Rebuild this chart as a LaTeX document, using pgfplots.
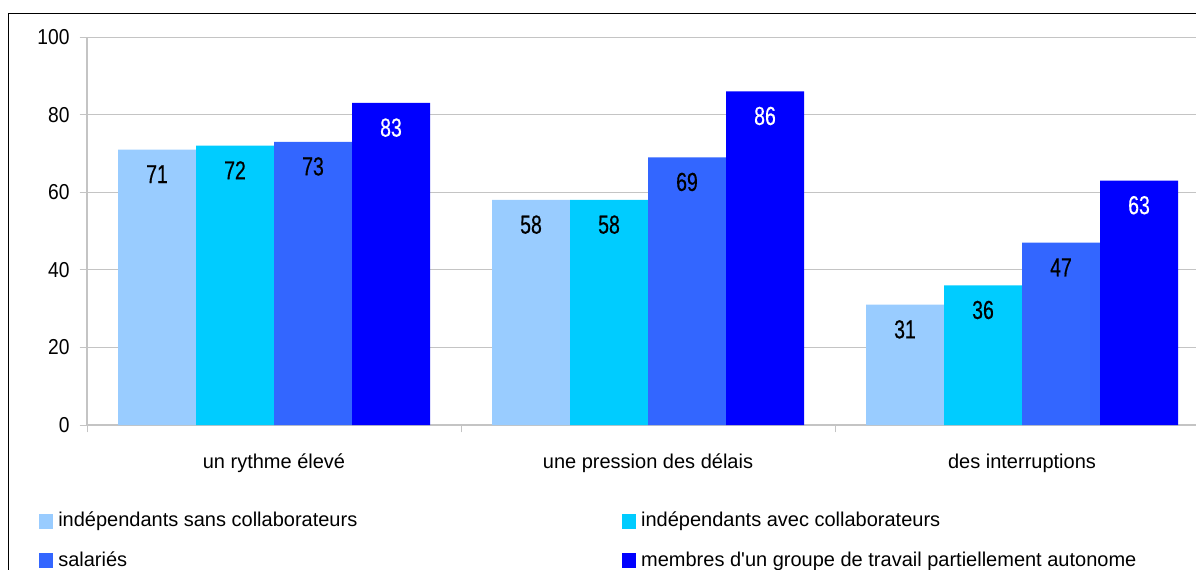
\documentclass[border=0pt]{standalone}
\usepackage{fontspec}
\setmainfont{Liberation Sans}
\newfontfamily\labfont{Liberation Sans}[FakeStretch=0.75,FakeBold=0.4]
\newfontfamily\tickfont{Liberation Sans}[FakeStretch=0.89]
\usepackage{pgfplots}
\pgfplotsset{compat=1.18}
\definecolor{cA}{HTML}{99CCFF}
\definecolor{cB}{HTML}{00CCFF}
\definecolor{cC}{HTML}{3366FF}
\definecolor{cD}{HTML}{0000FF}
\definecolor{gridc}{HTML}{C4C4C4}
\begin{document}
\begin{tikzpicture}
\useasboundingbox (0,0) rectangle (897pt,-426.75pt);
\clip (0,0) rectangle (897pt,-426.75pt);
\draw[line width=1.1pt] (6.4pt,-430pt) -- (6.4pt,-10pt) -- (900pt,-10pt);
\begin{axis}[
  at={(65.25pt,-318.75pt)}, anchor=south west,
  scale only axis, width=841.5pt, height=291pt,
  xmin=-0.5, xmax=2.5, ymin=0, ymax=100,
  ybar=0pt, bar width=58.5pt,
  axis x line*=bottom, axis y line*=left,
  axis line style={gridc, line width=1.5pt},
  ytick={0,20,40,60,80,100},
  ymajorgrids, grid style={gridc, line width=0.75pt},
  tick style={gridc, line width=0.75pt},
  tick align=outside,
  major tick length=5.6pt,
  xtick={-0.5,0.5,1.5,2.5},
  xticklabels={,,,},
  extra x ticks={0,1,2},
  extra x tick labels={un rythme élevé, une pression des délais, des interruptions},
  extra x tick style={major tick length=0pt, grid=none, xticklabel style={anchor=base, yshift=-32.5pt, font=\fontsize{15}{18}\selectfont}},
  yticklabel style={xshift=-4pt, font=\tickfont\fontsize{16.2}{18}\selectfont},
  tick label style={text=black},
  /pgf/number format/assume math mode=true,
  nodes near coords,
  every node near coord/.append style={anchor=center, yshift=-18.5pt, font=\labfont\fontsize{19.5}{21}\selectfont},
  legend columns=2,
  legend cell align=left,
  legend style={draw=none, fill=none, inner sep=0pt, outer sep=0pt,
    at={(axis description cs:-0.0425,-0.2247)}, anchor=north west,
    font=\fontsize{15}{18}\selectfont, row sep=15.5pt,
    nodes={inner sep=0pt, text height=11pt, text depth=3pt},
    /tikz/every odd column/.append style={column sep=4.2pt}},
  legend image code/.code={\fill[#1] (0pt,-5.6pt) rectangle (10pt,5.6pt);},
]
\addplot[fill=cA, draw=none, every node near coord/.append style={text=black}] coordinates {(0,71) (1,58) (2,31)};
\addlegendentry{\makebox[423pt][l]{indépendants sans collaborateurs}}
\addplot[fill=cB, draw=none, every node near coord/.append style={text=black}] coordinates {(0,72) (1,58) (2,36)};
\addlegendentry{indépendants avec collaborateurs}
\addplot[fill=cC, draw=none, every node near coord/.append style={text=black}] coordinates {(0,73) (1,69) (2,47)};
\addlegendentry{\makebox[423pt][l]{salariés}}
\addplot[fill=cD, draw=none, every node near coord/.append style={text=white}] coordinates {(0,83) (1,86) (2,63)};
\addlegendentry{membres d\textquotesingle un groupe de travail partiellement autonome}
\end{axis}
\end{tikzpicture}
\end{document}
